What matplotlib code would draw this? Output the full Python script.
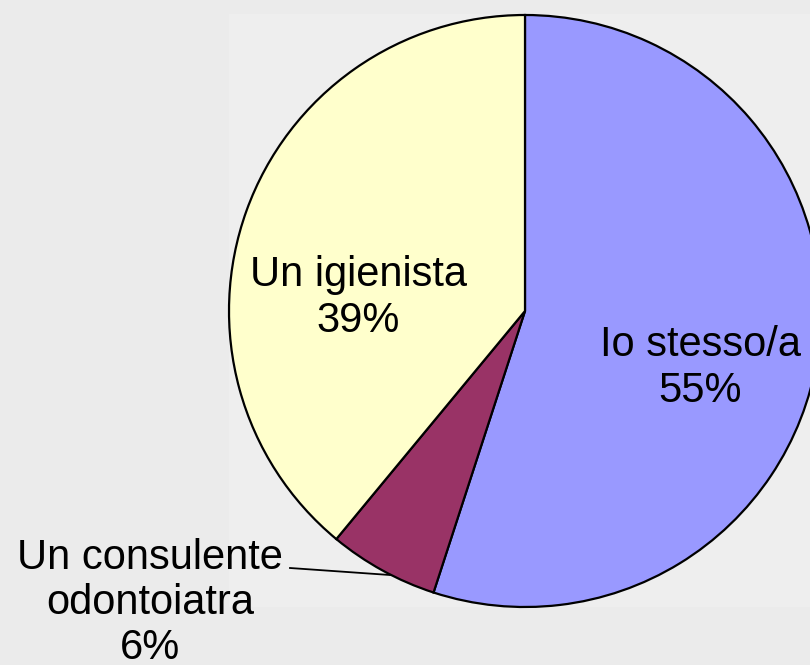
import matplotlib.pyplot as plt
from matplotlib.patches import Rectangle

plt.rcParams['font.family'] = ['Liberation Sans', 'DejaVu Sans']

# Data
labels = ['Io stesso/a', 'Un consulente\nodontoiatra', 'Un igienista']
shares = [55, 6, 39]
colors = ['#9999ff', '#993366', '#ffffcc']

W, H = 810, 665
fig = plt.figure(figsize=(W / 100, H / 100), dpi=100, facecolor='#ebebeb')
ax = fig.add_axes([0, 0, 1, 1])
ax.set_xlim(0, W)
ax.set_ylim(0, H)
ax.set_aspect('equal')
ax.axis('off')

# slightly lighter plot area
ax.add_patch(Rectangle((229, 58), 600, 593, facecolor='#eeeeee', edgecolor='none', zorder=0))

cx, cy, r = 525, 354, 296
wedges, _ = ax.pie(shares, colors=colors, startangle=90, counterclock=False,
                   center=(cx, cy), radius=r, frame=True,
                   wedgeprops=dict(edgecolor='black', linewidth=1.6))
ax.set_xlim(0, W)
ax.set_ylim(0, H)
ax.axis('off')

fs = 30
ax.text(cx + 175, cy - 57, f'{labels[0]}\n{shares[0]}%', ha='center', va='center', fontsize=fs)
ax.text(cx - 167, cy + 13, f'{labels[2]}\n{shares[2]}%', ha='center', va='center', fontsize=fs)
ax.text(150, 62, f'{labels[1]}\n{shares[1]}%', ha='center', va='center', fontsize=fs, linespacing=1.15)
ax.plot([290, 390], [97, 90], color='black', linewidth=1.3)

fig.savefig('out.png', dpi=100, facecolor=fig.get_facecolor())
